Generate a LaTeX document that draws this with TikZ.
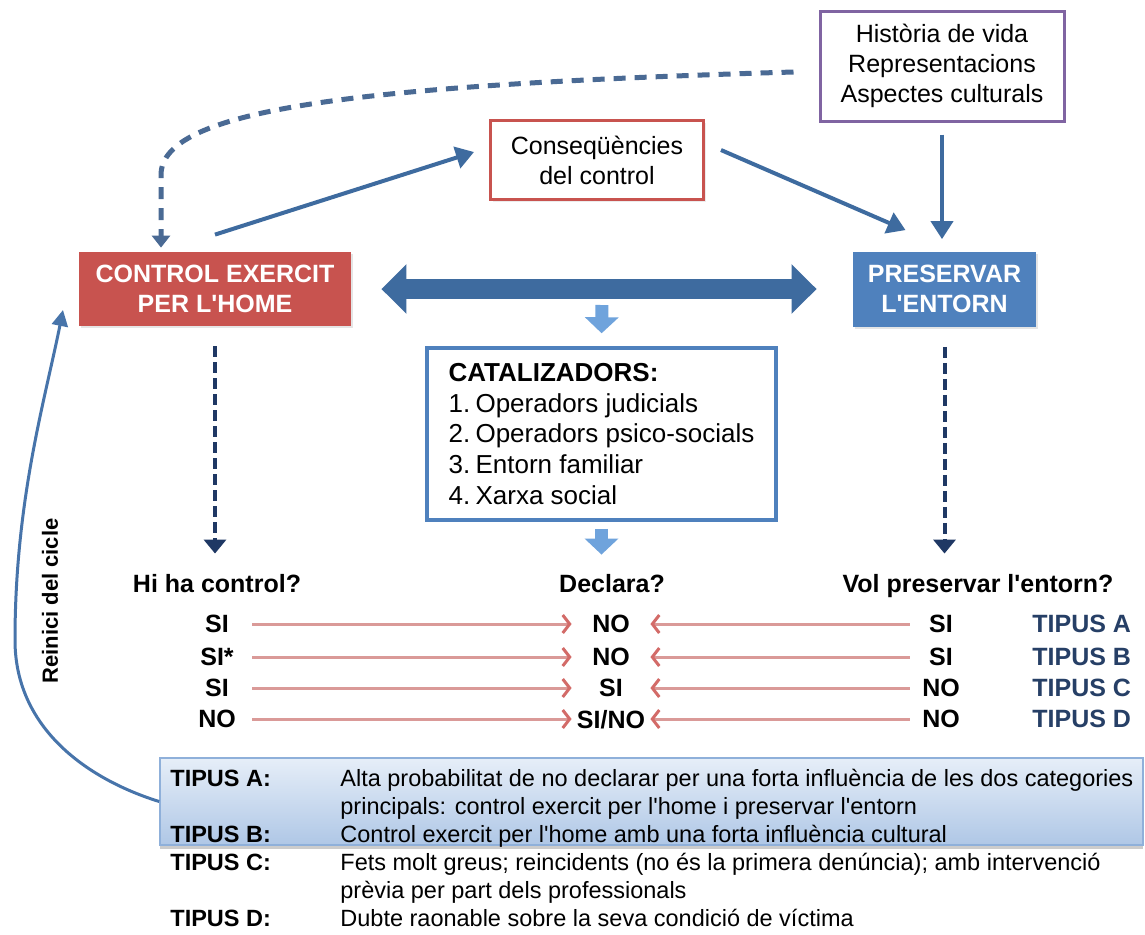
\documentclass[tikz,border=0pt]{standalone}
\usepackage{fontspec}
\setmainfont{Liberation Sans}[Ligatures=TeXOff]
\usetikzlibrary{arrows.meta,positioning,shadows}
\definecolor{decRed}{HTML}{C8534F}
\definecolor{decBlue}{HTML}{4F81BD}
\definecolor{decSteel}{HTML}{3E6B9F}
\definecolor{decNavy}{HTML}{1F3864}
\definecolor{decDash}{HTML}{4A6A94}
\definecolor{decPurple}{HTML}{8064A2}
\definecolor{decPink}{HTML}{DA9A98}
\definecolor{decPinkTip}{HTML}{D36B68}
\definecolor{decSky}{HTML}{6FA3DC}
\definecolor{decType}{HTML}{263F66}
\definecolor{decPale}{HTML}{E6EEF8}
\definecolor{decMid}{HTML}{AFC7E6}
\definecolor{decEdge}{HTML}{8FB0DA}
\tikzset{
  dec plain/.style={font=\fontsize{12.5}{15}\selectfont, align=center},
  dec frame/.style={dec plain, draw, line width=1.5pt, fill=white,
    drop shadow={opacity=0.15, shadow xshift=1pt, shadow yshift=-1pt}},
  dec block/.style={font=\bfseries\fontsize{12.5}{15}\selectfont, align=center, text=white,
    drop shadow={opacity=0.2, shadow xshift=1pt, shadow yshift=-1pt}},
  dec head/.style={font=\bfseries\fontsize{12.5}{15}\selectfont, text depth=0pt, inner sep=2pt},
  dec cell/.style={font=\bfseries\fontsize{12.5}{15}\selectfont, text depth=0pt, inner sep=0pt},
  dec link/.style={draw=decSteel, line width=2pt, -{Triangle[width=11pt,length=9pt]}},
  dec big/.style={draw=decSteel, line width=10pt,
    {Triangle[width=24pt,length=12.5pt]}-{Triangle[width=24pt,length=12.5pt]}},
  dec drop/.style={draw=decSky, line width=6.5pt, -{Triangle[width=16.5pt,length=8pt]}},
  dec dashed/.style={draw=decNavy, line width=2pt, dash pattern=on 5.5pt off 2.5pt,
    -{Triangle[width=11pt,length=7pt]}},
  dec back/.style={draw=decDash, line width=2.5pt, dash pattern=on 6pt off 4.5pt,
    -{Triangle[width=9pt,length=6pt]}},
  dec loop/.style={draw=decBlue!90!black, line width=1.5pt, -{Triangle[width=8pt,length=8pt]}},
  dec row/.style={draw=decPink, line width=1.5pt,
    -{Straight Barb[length=3.5pt,width=9pt,line width=1.5pt,color=decPinkTip]}},
}

\begin{document}
\begin{tikzpicture}[x=0.5pt,y=-0.5pt]
  \useasboundingbox (0,0) rectangle (1145,934);
  \fill[white] (0,0) rectangle (1145,934);

  % top boxes
  \node[dec frame, draw=decPurple, minimum width=122pt, minimum height=55pt] (hist) at (942,66)
    {Història de vida\\Representacions\\Aspectes culturals};
  \node[dec frame, draw=decRed, minimum width=106.5pt, minimum height=39.5pt] (cons) at (597,160)
    {Conseqüències\\del control};

  % the two main categories
  \node[dec block, fill=decRed, minimum width=136pt, minimum height=37pt] (ctrl) at (215,289)
    {CONTROL EXERCIT\\PER L'HOME};
  \node[dec block, fill=decBlue, minimum width=91.5pt, minimum height=37.5pt] (pres) at (944.5,289)
    {PRESERVAR\\L'ENTORN};
  \coordinate (hub) at (602,289);

  \node[dec frame, draw=decBlue, line width=1.75pt, minimum width=174.5pt, minimum height=86pt,
        align=left, font=\fontsize{13}{15.4}\selectfont] (cat) at (601.5,434)
    {\textbf{CATALIZADORS:}\\
     \makebox[13.5pt][l]{1.}Operadors judicials\\
     \makebox[13.5pt][l]{2.}Operadors psico-socials\\
     \makebox[13.5pt][l]{3.}Entorn familiar\\
     \makebox[13.5pt][l]{4.}Xarxa social};

  % questions
  \node[dec head] (hictl) at (217,583) {Hi ha control?};
  \node[dec head] (decl) at (612,583) {Declara?};
  \node[dec head] (volp) at (978,583) {Vol preservar l'entorn?};

  % answer rows
  \foreach \n/\y/\a/\b/\c/\t in {1/624/SI/NO/SI/A, 2/657/SI*/NO/SI/B,
                                  3/688/SI/SI/NO/C, 4/719/NO/{SI/NO}/NO/D}
  {
    \node[dec cell, minimum width=35pt] (l\n) at (217,\y) {\a};
    \node[dec cell, minimum width=39pt] (m\n) at (611,\y) {\b};
    \node[dec cell, minimum width=31pt] (r\n) at (941,\y) {\c};
    \node[dec cell, text=decType, anchor=west] (t\n) at (1032,\y) {TIPUS \t};
    \draw[dec row] (l\n) -- (m\n);
    \draw[dec row] (r\n) -- (m\n);
  }

  % legend
  \node[draw=decEdge, line width=0.8pt, top color=decPale, bottom color=decMid,
        minimum width=491.5pt, minimum height=43.5pt,
        drop shadow={opacity=0.4, shadow xshift=0pt, shadow yshift=-2pt}] (hl) at (651.5,801.5) {};
  \node[anchor=north west, inner sep=0pt, font=\fontsize{11.75}{14}\selectfont] (legend) at (170,766)
    {\begin{tabular}{@{}p{85pt}@{}l@{}}
      \textbf{TIPUS A:} & Alta probabilitat de no declarar per una forta influència de les dos categories\\
       & principals: control exercit per l'home i preservar l'entorn\\
      \textbf{TIPUS B:} & Control exercit per l'home amb una forta influència cultural\\
      \textbf{TIPUS C:} & Fets molt greus; reincidents (no és la primera denúncia); amb intervenció\\
       & prèvia per part dels professionals\\
      \textbf{TIPUS D:} & Dubte raonable sobre la seva condició de víctima
    \end{tabular}};

  % connectors
  \draw[dec back] ([xshift=-12.5pt,yshift=-3pt]hist.west) .. controls (350,85) and (161,110) .. (161,175)
    -- ([xshift=-27pt,yshift=2pt]ctrl.north);
  \draw[dec link] ([yshift=8.5pt]ctrl.north) -- ([xshift=-7.5pt,yshift=4pt]cons.west);
  \draw[dec link] ([xshift=8pt,yshift=5pt]cons.east) -- ([xshift=-19.5pt,yshift=10.5pt]pres.north);
  \draw[dec link, shorten <=6pt, shorten >=6pt] (hist.south) -- (hist.south |- pres.north);
  \draw[dec big, shorten <=15pt, shorten >=18pt] (ctrl.east) -- (pres.west);
  \draw[dec drop, shorten <=8pt, shorten >=6.5pt] (hub) -- (cat.north);
  \draw[dec drop, shorten <=3.5pt, shorten >=7.5pt] (cat.south) -- (cat.south |- decl.north);
  \draw[dec dashed, shorten <=10pt, shorten >=8pt] (ctrl.south) -- (ctrl.south |- hictl.north);
  \draw[dec dashed, shorten <=10pt, shorten >=8pt] (pres.south) -- (pres.south |- volp.north);

  % restart of the cycle
  \coordinate (restart) at (63,310);
  \draw[dec loop] (hl.west) .. controls (90,780) and (15,730) .. (15,640)
    .. controls (15,500) and (45,400) .. (restart);
  \node[font=\bfseries\fontsize{11}{13}\selectfont, rotate=90] (reinici) at (50,601) {Reinici del cicle};
\end{tikzpicture}
\end{document}
